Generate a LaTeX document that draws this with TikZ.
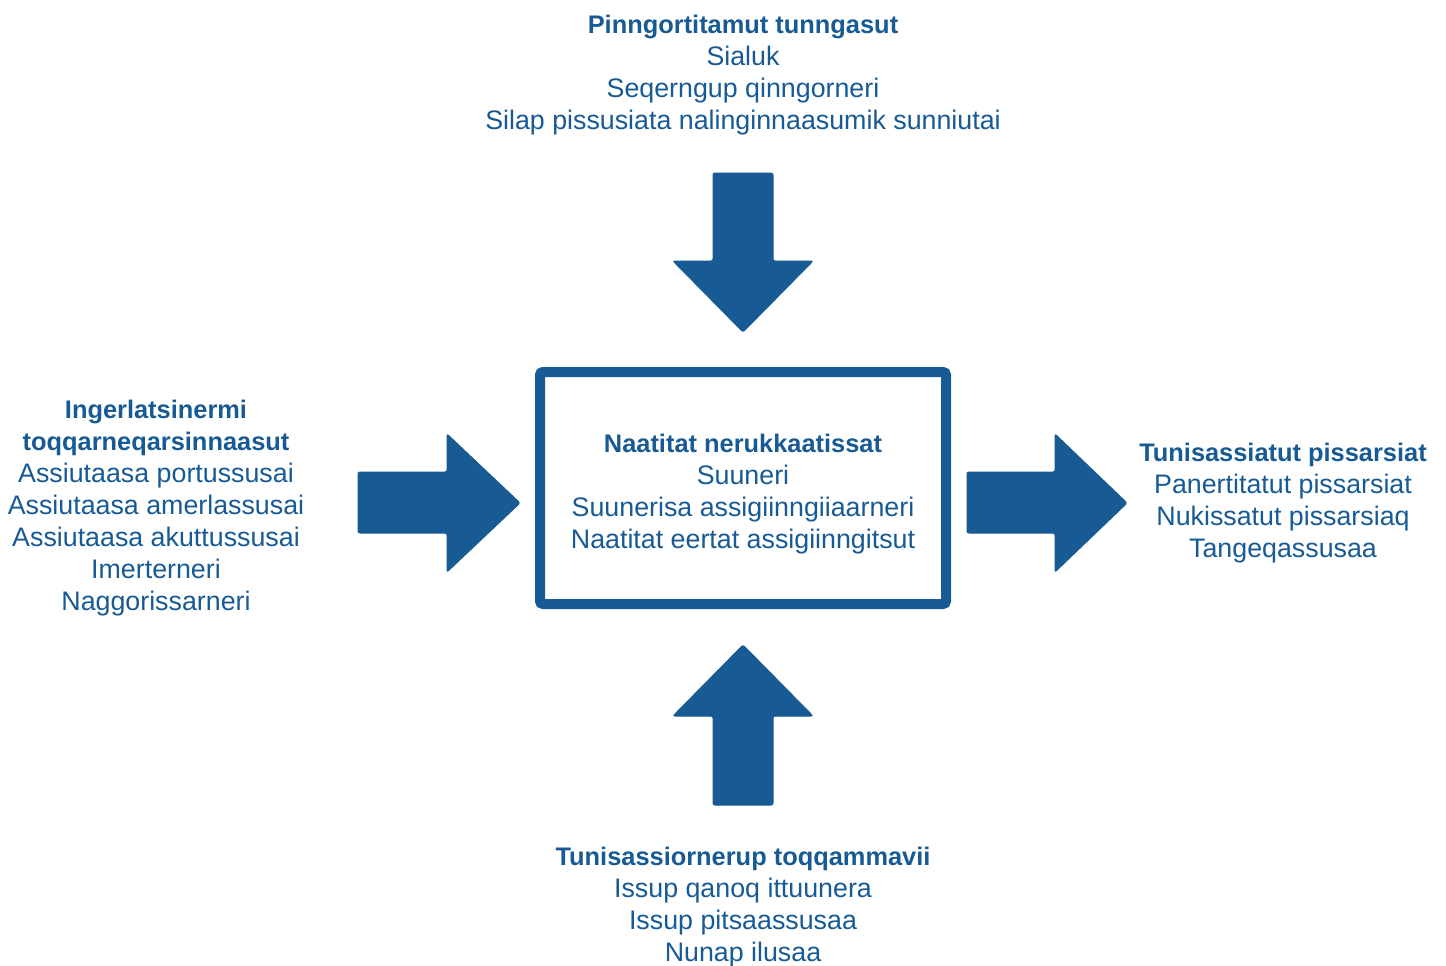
\documentclass[tikz,border=0pt]{standalone}
\usepackage{fontspec}
\setmainfont{Liberation Sans}
\definecolor{navy}{RGB}{23,90,148}
\newcommand{\hd}[1]{{\fontsize{25.4}{32}\selectfont\bfseries #1}}
\begin{document}
\begin{tikzpicture}[x=1pt,y=-1pt,
  txt/.style={text=navy,align=center,inner sep=0pt,font=\fontsize{26.8}{32}\selectfont},
  bigarrow/.style={fill=navy,draw=navy,line width=1pt,rounded corners=2pt}]
\useasboundingbox (0,0) rectangle (1446,966);
% central box
\draw[navy,line width=10pt,rounded corners=3pt] (540,372) rectangle (946,604);
\node[txt] (center) at (743,494) {\hd{Naatitat nerukkaatissat}\\Suuneri\\Suunerisa assigiinngiiaarneri\\Naatitat eertat assigiinngitsut};
% top text
\node[txt] (top) at (743,75) {\hd{Pinngortitamut tunngasut}\\Sialuk\\Seqerngup qinngorneri\\Silap pissusiata nalinginnaasumik sunniutai};
% left text
\node[txt] (left) at (156,508) {\hd{Ingerlatsinermi}\\\hd{toqqarneqarsinnaasut}\\Assiutaasa portussusai\\Assiutaasa amerlassusai\\Assiutaasa akuttussusai\\Imerterneri\\Naggorissarneri};
% right text
\node[txt] (right) at (1283,503) {\hd{Tunisassiatut pissarsiat}\\Panertitatut pissarsiat\\Nukissatut pissarsiaq\\Tangeqassusaa};
% bottom text
\node[txt] (bottom) at (743,907) {\hd{Tunisassiornerup toqqammavii}\\Issup qanoq ittuunera\\Issup pitsaassusaa\\Nunap ilusaa};
% arrows
\path[bigarrow] (713,173) -- (773,173) -- (773,261) -- (813,261) -- (743,332) -- (673,261) -- (713,261) -- cycle;
\path[bigarrow] (713,805) -- (773,805) -- (773,716) -- (813,716) -- (743,645) -- (673,716) -- (713,716) -- cycle;
\path[bigarrow] (358,472) -- (447,472) -- (447,434) -- (520,503) -- (447,572) -- (447,533) -- (358,533) -- cycle;
\path[bigarrow] (967,472) -- (1055,472) -- (1055,434) -- (1127,503) -- (1055,572) -- (1055,533) -- (967,533) -- cycle;
\end{tikzpicture}
\end{document}
